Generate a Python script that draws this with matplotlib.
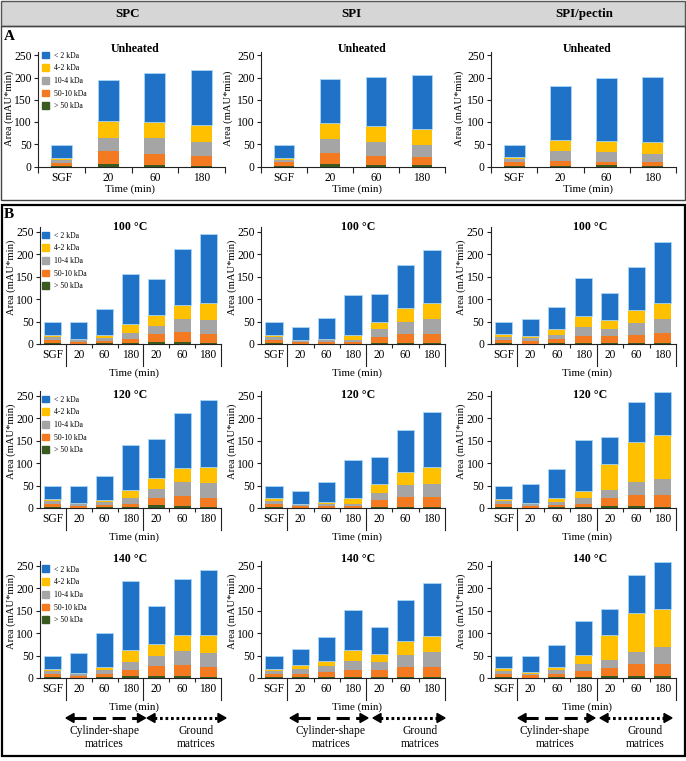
"""
Stacked peptide-size fractions (SEC area) for SPC / SPI / SPI-pectin matrices,
unheated (A) and heated at 100/120/140 °C (B).
"""

import numpy as np
import matplotlib.pyplot as plt
from matplotlib.patches import Rectangle, Patch, Polygon

plt.rcParams['font.family'] = ['Liberation Serif', 'DejaVu Serif']

W, H = 686, 761   # figure size in pixels

# ── Data: segments bottom → top (>50, 50-10, 10-4, 4-2, <2 kDa) ──────────
fractions = ["> 50 kDa", "50-10 kDa", "10-4 kDa", "4-2 kDa", "< 2 kDa"]
colors = ["#3a5a1f", "#f47a22", "#a5a5a5", "#ffc000", "#1f72c6"]

times_a = ["SGF", "20", "60", "180"]
times_b = ["SGF", "20", "60", "180", "20", "60", "180"]

# A – unheated
spc_unheated = [[2, 6, 4, 2],
                [6, 28, 25, 21],
                [7, 31, 34, 32],
                [5, 37, 37, 38],
                [29, 93, 111, 123]]
spi_unheated = [[2, 6, 3, 3],
                [7, 25, 21, 19],
                [6, 31, 31, 27],
                [5, 35, 35, 36],
                [29, 100, 111, 120]]
spip_unheated = [[2, 2, 3, 2],
                 [8, 11, 8, 8],
                 [6, 21, 21, 18],
                 [6, 26, 26, 26],
                 [27, 121, 141, 147]]

# B – 100 °C
spc_100 = [[3, 1, 2, 3, 5, 5, 3],
           [6, 3, 5, 9, 17, 21, 20],
           [7, 4, 7, 13, 18, 29, 30],
           [4, 3, 5, 20, 24, 33, 39],
           [29, 38, 60, 112, 82, 125, 154]]
spi_100 = [[2, 1, 1, 1, 2, 3, 3],
           [7, 3, 4, 4, 14, 19, 20],
           [6, 3, 3, 3, 17, 28, 32],
           [5, 3, 4, 12, 17, 31, 37],
           [28, 29, 45, 89, 62, 95, 117]]
spip_100 = [[2, 1, 2, 3, 3, 2, 3],
            [8, 6, 9, 14, 14, 17, 21],
            [6, 6, 8, 21, 16, 27, 31],
            [6, 4, 14, 25, 20, 29, 37],
            [26, 38, 50, 85, 61, 96, 135]]

# B – 120 °C
spc_120 = [[2, 1, 2, 3, 6, 4, 3],
           [8, 3, 5, 7, 16, 22, 19],
           [6, 4, 6, 12, 21, 31, 33],
           [5, 3, 4, 18, 25, 32, 36],
           [27, 37, 55, 100, 85, 123, 151]]
spi_120 = [[2, 1, 1, 1, 3, 3, 3],
           [8, 3, 4, 4, 14, 21, 21],
           [6, 3, 4, 5, 17, 28, 30],
           [6, 3, 5, 12, 20, 29, 38],
           [27, 28, 44, 85, 59, 94, 122]]
spip_120 = [[2, 1, 2, 3, 5, 5, 3],
            [7, 4, 5, 7, 17, 23, 25],
            [7, 4, 6, 12, 19, 30, 37],
            [5, 3, 10, 17, 58, 90, 98],
            [28, 42, 63, 113, 60, 88, 96]]

# B – 140 °C
spc_140 = [[2, 1, 2, 5, 5, 5, 3],
           [7, 4, 7, 13, 21, 25, 21],
           [6, 4, 8, 18, 23, 30, 32],
           [5, 3, 7, 27, 27, 37, 39],
           [29, 43, 77, 154, 85, 124, 145]]
spi_140 = [[3, 2, 2, 3, 3, 3, 3],
           [6, 8, 12, 15, 15, 21, 21],
           [7, 10, 12, 20, 18, 27, 33],
           [5, 8, 12, 25, 17, 31, 37],
           [28, 37, 54, 88, 60, 92, 117]]
spip_140 = [[2, 1, 2, 3, 5, 5, 5],
            [8, 5, 7, 13, 17, 26, 26],
            [6, 4, 8, 15, 18, 28, 39],
            [6, 3, 7, 20, 57, 86, 83],
            [27, 36, 49, 77, 56, 85, 105]]

# ── Figure + pixel overlay for frames, headers, arrows ─────────────
fig = plt.figure(figsize=(W / 100, H / 100), dpi=100)
ov = fig.add_axes([0, 0, 1, 1])
ov.set_xlim(0, W)
ov.set_ylim(H, 0)
ov.axis("off")

ov.add_patch(Rectangle((0.5, 0.5), W - 1.5, 25, fc="#d6d6d6", ec="#555555", lw=1))
ov.add_patch(Rectangle((0.5, 25.5), W - 1.5, 174.5, fc="none", ec="#444444", lw=1))
ov.add_patch(Rectangle((1.5, 205), W - 3, 551, fc="none", ec="black", lw=1.6))

for x, t in [(128, "SPC"), (351, "SPI"), (584, "SPI/pectin")]:
    ov.text(x, 14, t, ha="center", va="center", fontsize=9.4, fontweight="bold")
ov.text(9, 37, "A", ha="center", va="center", fontsize=11, fontweight="bold")
ov.text(9, 214, "B", ha="center", va="center", fontsize=11, fontweight="bold")


def style_axes(ax, ytop):
    ax.set_facecolor("none")
    ax.set_ylim(0, ytop)
    for s in ["top", "right"]:
        ax.spines[s].set_visible(False)
    for s in ["left", "bottom"]:
        ax.spines[s].set_color("#222222")
        ax.spines[s].set_linewidth(0.8)
    ax.set_yticks(range(0, 251, 50))
    ax.tick_params(axis="y", length=3, width=0.8, labelsize=8.4, pad=1.5, color="#222222")


def draw_stack(ax, segs, width):
    x = np.arange(len(segs[0]))
    bottom = np.zeros(len(x))
    for k, (vals, c) in enumerate(zip(segs, colors)):
        if k == len(segs) - 1:
            # light rim on the top (< 2 kDa) segment, as in the original
            ax.bar(x, vals, width, bottom=bottom, color=c, edgecolor="#a9d6f5", linewidth=0.6)
        else:
            ax.bar(x, vals, width, bottom=bottom, color=c, linewidth=0)
        bottom += np.array(vals)
    ax.set_xlim(-0.5, len(x) - 0.5)


def add_legend(ax, x, y):
    handles = [Patch(color=c) for c in colors[::-1]]
    ax.legend(handles, fractions[::-1], loc="upper left", bbox_to_anchor=(x, y),
              bbox_transform=ov.transData, frameon=False, fontsize=5.6,
              handlelength=0.95, handleheight=0.95, handletextpad=0.6,
              labelspacing=0.6, borderpad=0, borderaxespad=0)


# ── Panel A (unheated) ─────────────────────────────────────────────
ppu_a, ytop_a, zero_a = 0.445, 258, 166.5
cols_a = [(spc_unheated, 38, 225, 135, 9, 130),
          (spi_unheated, 261, 445, 362, 228, 357),
          (spip_unheated, 491, 676, 587, 459, 588)]

for i, (segs, x0, x1, tx, lx, timex) in enumerate(cols_a):
    h = ytop_a * ppu_a
    ax = fig.add_axes([x0 / W, 1 - zero_a / H, (x1 - x0) / W, h / H])
    draw_stack(ax, segs, 0.45)
    style_axes(ax, ytop_a)
    ax.set_xticks(np.arange(-0.5, 4), labels=[])
    ax.set_xticks(np.arange(4), labels=times_a, minor=True)
    ax.tick_params(axis="x", which="major", length=4, width=0.8, color="#222222")
    ax.tick_params(axis="x", which="minor", length=0, labelsize=8.3, pad=4)
    ov.text(tx, 49, "Unheated", ha="center", va="center", fontsize=8.6, fontweight="bold")
    ov.text(lx, zero_a - 58, "Area (mAU*min)", ha="center", va="center",
            rotation=90, fontsize=7.6)
    ov.text(timex, 189, "Time (min)", ha="center", va="center", fontsize=7.9)
    if i == 0:
        add_legend(ax, 41.5, 51.5)

# ── Panel B (heated) ───────────────────────────────────────────────
ppu_b, ytop_b = 0.448, 262
rows_b = [("100 °C", 344, 227, [spc_100, spi_100, spip_100]),
          ("120 °C", 508, 395, [spc_120, spi_120, spip_120]),
          ("140 °C", 678, 559, [spc_140, spi_140, spip_140])]
cols_b = [(40, 221, 130, 11.5, 134), (261, 445, 358, 232, 357), (490.5, 676, 590, 461.5, 587)]

for r, (temp, zero_y, title_y, datasets) in enumerate(rows_b):
    for c, segs in enumerate(datasets):
        x0, x1, tx, lx, timex = cols_b[c]
        h = ytop_b * ppu_b
        ax = fig.add_axes([x0 / W, 1 - zero_y / H, (x1 - x0) / W, h / H])
        draw_stack(ax, segs, 0.66)
        style_axes(ax, ytop_b)
        ax.set_xticks([1.5, 2.5, 4.5, 5.5], labels=[])
        ax.set_xticks(np.arange(7), labels=times_b, minor=True)
        ax.tick_params(axis="x", which="major", length=3, width=0.8, color="#222222")
        ax.tick_params(axis="x", which="minor", length=0, labelsize=8.3, pad=3.5)
        for xb in [0.5, 3.5, 6.5]:
            ax.plot([xb, xb], [0, -22 / h], transform=ax.get_xaxis_transform(),
                    color="#222222", lw=0.8, clip_on=False)
        ov.text(tx, title_y, temp, ha="center", va="center", fontsize=8.6, fontweight="bold")
        ov.text(lx, zero_y - 67, "Area (mAU*min)", ha="center", va="center",
                rotation=90, fontsize=7.6)
        ov.text(timex, zero_y + 29, "Time (min)", ha="center", va="center", fontsize=7.9)
        if c == 0:
            add_legend(ax, 41.5, zero_y - 250 * ppu_b - 0.5)


# ── Matrix-shape arrows under the bottom row ──────────────────────
def double_arrow(x0, x1, y, dashes):
    head = 8
    ov.plot([x0 + head - 1, x1 - head + 1], [y, y], color="black", lw=2.2,
            linestyle=(0, dashes), solid_capstyle="butt", dash_capstyle="butt")
    ov.add_patch(Polygon([[x0, y], [x0 + head, y - 4.5], [x0 + head, y + 4.5]], color="black"))
    ov.add_patch(Polygon([[x1, y], [x1 - head, y - 4.5], [x1 - head, y + 4.5]], color="black"))


arrows = [(66, 145.5, 147, 226, 104, 196),
          (290, 368, 373, 445, 331, 420),
          (518, 595, 600, 672, 555, 645)]
for xa0, xa1, xb0, xb1, cyl_x, gr_x in arrows:
    double_arrow(xa0, xa1, 718, (4.3, 2.1))
    double_arrow(xb0, xb1, 718, (0.9, 0.9))
    ov.text(cyl_x, 737.5, "Cylinder-shape\nmatrices", ha="center", va="center",
            fontsize=8.3, linespacing=1.15)
    ov.text(gr_x, 737.5, "Ground\nmatrices", ha="center", va="center",
            fontsize=8.3, linespacing=1.15)

fig.savefig("out.png", dpi=100)
